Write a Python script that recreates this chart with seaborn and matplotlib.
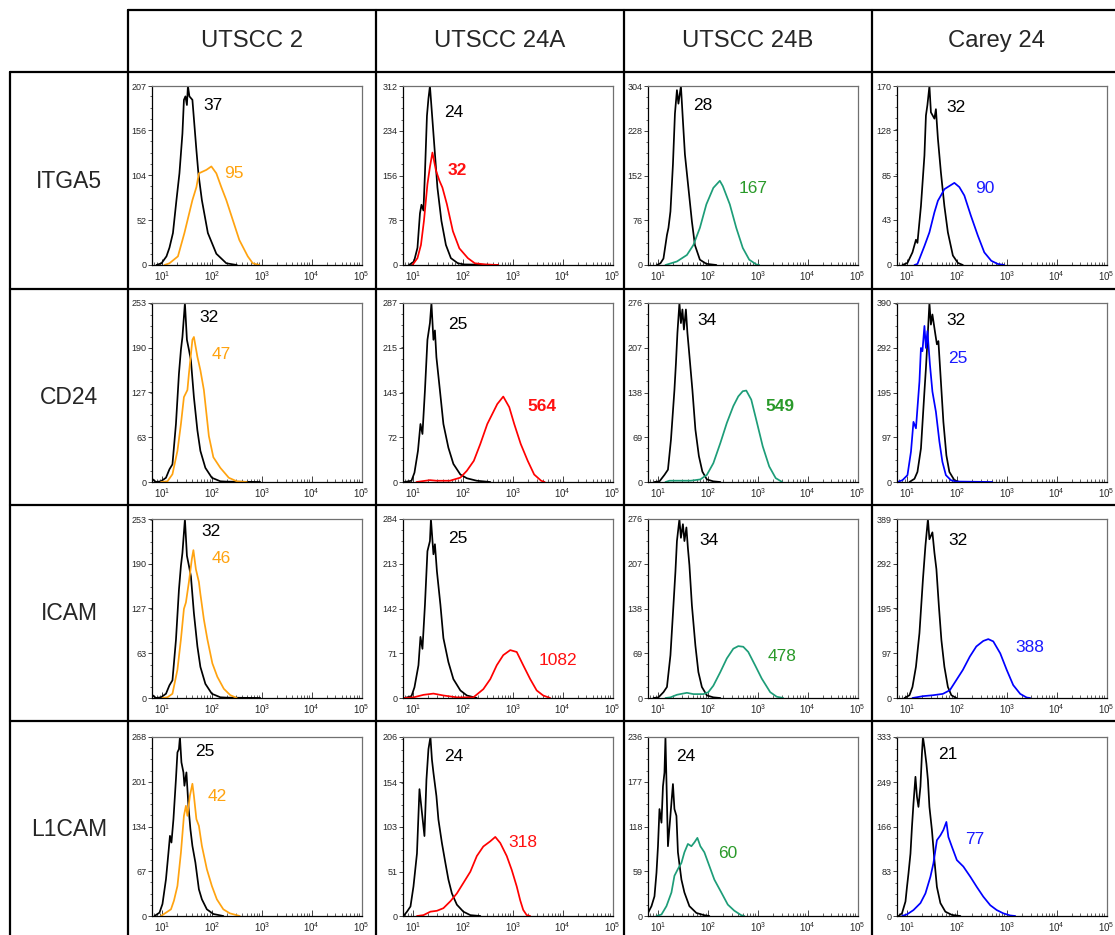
"""Flow cytometry histograms: surface markers across four HNSCC cell lines."""

import matplotlib

matplotlib.use("Agg")  # headless
import matplotlib.pyplot as plt  # noqa: E402
import numpy as np  # noqa: E402
import seaborn as sns  # noqa: E402
from matplotlib.lines import Line2D  # noqa: E402
from matplotlib.ticker import AutoMinorLocator, FixedLocator, LogLocator, NullFormatter  # noqa: E402

sns.set_style("white")
plt.rcParams["font.family"] = ["Liberation Sans", "DejaVu Sans"]
plt.rcParams["mathtext.fontset"] = "custom"
plt.rcParams["mathtext.rm"] = "Liberation Sans"

CELL_LINES = ["UTSCC 2", "UTSCC 24A", "UTSCC 24B", "Carey 24"]
MARKERS = ["ITGA5", "CD24", "ICAM", "L1CAM"]
STAIN_COLORS = ["#ffa310", "#ff0000", "#1d9d78", "#0000ff"]
LABEL_COLORS = ["#ffa310", "#ff1010", "#2a9a2a", "#1a1aff"]

# ---- histogram traces: log10(fluorescence) and event counts ----
# ITGA5
itga5_u2_iso_log = [0.89, 0.99, 1.09, 1.15, 1.22, 1.29, 1.35, 1.41, 1.44, 1.47, 1.50, 1.52, 1.55, 1.61, 1.69, 1.73, 1.80, 1.92, 2.09, 2.29, 2.50]
itga5_u2_iso_n = [0, 2, 10, 20, 37, 75, 106, 152, 191, 195, 185, 207, 195, 191, 133, 106, 75, 37, 13, 2, 0]
itga5_u2_pos_log = [1.05, 1.15, 1.32, 1.45, 1.61, 1.69, 1.74, 1.89, 1.99, 2.09, 2.19, 2.29, 2.42, 2.55, 2.72, 2.82, 2.95]
itga5_u2_pos_n = [0, 2, 10, 37, 75, 90, 106, 110, 114, 106, 90, 75, 52, 29, 10, 2, 0]

itga5_u24a_iso_log = [0.92, 1.02, 1.09, 1.14, 1.17, 1.21, 1.24, 1.28, 1.31, 1.34, 1.39, 1.44, 1.49, 1.57, 1.66, 1.76, 1.90, 2.03, 2.70]
itga5_u24a_iso_n = [0, 6, 30, 90, 105, 95, 160, 260, 290, 312, 253, 194, 135, 77, 35, 12, 3, 1, 0]
itga5_u24a_pos_log = [0.99, 1.09, 1.16, 1.22, 1.29, 1.34, 1.39, 1.46, 1.53, 1.59, 1.68, 1.80, 1.93, 2.10, 2.24, 2.45, 2.71]
itga5_u24a_pos_n = [0, 12, 35, 77, 141, 171, 196, 165, 147, 135, 106, 59, 29, 12, 3, 1, 0]

itga5_u24b_iso_log = [0.98, 1.05, 1.11, 1.18, 1.21, 1.25, 1.30, 1.34, 1.38, 1.41, 1.46, 1.50, 1.54, 1.61, 1.68, 1.74, 1.84, 1.97, 2.17]
itga5_u24b_iso_n = [0, 3, 11, 51, 63, 91, 171, 257, 297, 274, 304, 245, 188, 131, 74, 34, 9, 2, 0]
itga5_u24b_pos_log = [1.15, 1.38, 1.58, 1.71, 1.84, 1.97, 2.11, 2.24, 2.30, 2.44, 2.57, 2.70, 2.83, 2.97, 3.03]
itga5_u24b_pos_n = [0, 6, 17, 34, 63, 103, 131, 143, 134, 103, 63, 29, 9, 1, 0]

itga5_c24_iso_log = [0.91, 1.01, 1.11, 1.18, 1.21, 1.28, 1.35, 1.38, 1.41, 1.45, 1.48, 1.55, 1.58, 1.62, 1.68, 1.75, 1.82, 1.92, 2.02, 2.12]
itga5_c24_iso_n = [0, 2, 12, 24, 21, 56, 104, 142, 152, 170, 145, 139, 148, 120, 88, 56, 31, 9, 2, 0]
itga5_c24_pos_log = [1.15, 1.21, 1.35, 1.45, 1.55, 1.62, 1.68, 1.75, 1.85, 1.95, 2.05, 2.15, 2.28, 2.42, 2.55, 2.69, 2.82, 2.95]
itga5_c24_pos_n = [0, 1, 18, 31, 50, 61, 66, 72, 75, 78, 74, 66, 47, 28, 12, 4, 1, 0]

# CD24
cd24_u2_iso_log = [0.81, 0.88, 0.98, 1.08, 1.15, 1.21, 1.28, 1.34, 1.38, 1.41, 1.46, 1.50, 1.54, 1.58, 1.64, 1.71, 1.77, 1.87, 2.00, 2.17, 2.30, 2.97]
cd24_u2_iso_n = [4, 0, 1, 6, 18, 25, 82, 153, 187, 205, 253, 201, 187, 172, 120, 73, 44, 20, 6, 1, 0.5, 0]
cd24_u2_pos_log = [0.98, 1.11, 1.21, 1.31, 1.38, 1.44, 1.51, 1.54, 1.61, 1.64, 1.71, 1.77, 1.84, 1.94, 2.03, 2.17, 2.34, 2.50, 2.70]
cd24_u2_pos_n = [0, 1, 11, 44, 82, 120, 130, 153, 201, 205, 177, 158, 130, 65, 35, 20, 6, 1, 0]

cd24_u24a_iso_log = [0.83, 0.97, 1.03, 1.10, 1.15, 1.19, 1.24, 1.29, 1.34, 1.37, 1.41, 1.44, 1.47, 1.54, 1.61, 1.71, 1.81, 1.95, 2.08, 2.28, 2.55]
cd24_u24a_iso_n = [0, 2, 15, 50, 93, 77, 147, 228, 255, 287, 228, 243, 200, 147, 93, 55, 29, 12, 6, 2, 0]
cd24_u24a_pos_log = [1.07, 1.34, 1.47, 1.74, 1.95, 2.08, 2.22, 2.35, 2.49, 2.59, 2.69, 2.81, 2.93, 3.03, 3.16, 3.30, 3.43, 3.57, 3.64]
cd24_u24a_pos_n = [0, 3, 2, 2, 7, 18, 34, 61, 93, 109, 125, 137, 120, 93, 61, 34, 12, 2, 0]

cd24_u24b_iso_log = [0.93, 1.03, 1.13, 1.20, 1.26, 1.33, 1.36, 1.39, 1.43, 1.46, 1.49, 1.52, 1.56, 1.59, 1.62, 1.69, 1.75, 1.82, 1.89, 1.98, 2.11, 2.25]
cd24_u24b_iso_n = [0, 1, 11, 19, 65, 142, 183, 230, 276, 245, 266, 235, 266, 230, 204, 142, 81, 40, 16, 4, 1, 0]
cd24_u24b_pos_log = [1.15, 1.23, 1.66, 1.85, 1.98, 2.11, 2.25, 2.38, 2.51, 2.61, 2.70, 2.77, 2.87, 2.97, 3.10, 3.23, 3.36, 3.49]
cd24_u24b_pos_n = [0, 2, 2, 4, 11, 29, 60, 91, 117, 132, 140, 141, 127, 96, 55, 24, 6, 0]

cd24_c24_iso_log = [1.05, 1.15, 1.21, 1.28, 1.35, 1.38, 1.41, 1.45, 1.48, 1.51, 1.57, 1.60, 1.63, 1.68, 1.73, 1.79, 1.85, 1.95, 2.05]
cd24_c24_iso_n = [0, 7, 22, 73, 197, 248, 307, 390, 343, 365, 321, 300, 307, 219, 131, 58, 22, 4, 0]
cd24_c24_pos_log = [0.81, 0.91, 1.01, 1.08, 1.13, 1.18, 1.21, 1.25, 1.28, 1.31, 1.35, 1.38, 1.41, 1.46, 1.51, 1.58, 1.65, 1.71, 1.78, 1.88, 1.98, 2.71]
cd24_c24_pos_n = [0, 4, 15, 66, 131, 117, 161, 219, 292, 285, 340, 292, 329, 256, 197, 153, 88, 44, 15, 4, 1, 0]

# ICAM
icam_u2_iso_log = [0.81, 0.88, 0.98, 1.08, 1.15, 1.21, 1.28, 1.34, 1.38, 1.41, 1.46, 1.50, 1.54, 1.58, 1.64, 1.71, 1.77, 1.87, 2.00, 2.17, 2.30, 2.97]
icam_u2_iso_n = [4, 0, 1, 6, 18, 25, 82, 153, 187, 205, 253, 201, 187, 172, 120, 73, 44, 20, 6, 1, 0.5, 0]
icam_u2_pos_log = [1.01, 1.11, 1.21, 1.31, 1.38, 1.44, 1.48, 1.54, 1.60, 1.63, 1.68, 1.74, 1.77, 1.84, 1.91, 2.01, 2.11, 2.24, 2.37, 2.50]
icam_u2_pos_n = [0, 1, 6, 40, 83, 126, 135, 164, 197, 209, 182, 164, 147, 111, 83, 49, 30, 13, 4, 0]

icam_u24a_iso_log = [0.84, 0.97, 1.03, 1.11, 1.15, 1.19, 1.24, 1.29, 1.34, 1.36, 1.41, 1.44, 1.48, 1.55, 1.61, 1.71, 1.81, 1.95, 2.08, 2.28]
icam_u24a_iso_n = [0, 3, 17, 52, 97, 78, 148, 233, 249, 284, 228, 244, 201, 148, 95, 57, 30, 12, 4, 0]
icam_u24a_pos_log = [0.81, 1.01, 1.21, 1.41, 1.61, 1.88, 2.21, 2.41, 2.55, 2.68, 2.81, 2.95, 3.08, 3.21, 3.35, 3.48, 3.61, 3.75]
icam_u24a_pos_n = [0, 1, 5, 7, 4, 1, 1, 14, 30, 52, 68, 76, 73, 52, 30, 12, 4, 0]

icam_u24b_iso_log = [0.91, 1.01, 1.11, 1.18, 1.25, 1.31, 1.35, 1.38, 1.43, 1.46, 1.50, 1.53, 1.57, 1.60, 1.63, 1.68, 1.75, 1.81, 1.88, 1.98, 2.11, 2.25]
icam_u24b_iso_n = [0, 1, 9, 17, 66, 143, 195, 242, 276, 247, 268, 242, 263, 231, 205, 143, 81, 40, 17, 4, 1, 0]
icam_u24b_pos_log = [1.15, 1.25, 1.38, 1.58, 1.71, 1.91, 2.01, 2.11, 2.25, 2.38, 2.51, 2.61, 2.71, 2.81, 2.95, 3.08, 3.25, 3.38, 3.51]
icam_u24b_pos_n = [0, 1, 5, 8, 6, 6, 9, 19, 40, 61, 76, 80, 79, 71, 50, 30, 9, 2, 0]

icam_c24_iso_log = [0.95, 1.05, 1.11, 1.18, 1.25, 1.32, 1.37, 1.42, 1.45, 1.51, 1.55, 1.59, 1.64, 1.69, 1.75, 1.82, 1.89, 1.99]
icam_c24_iso_n = [0, 6, 24, 68, 141, 258, 331, 389, 345, 360, 316, 280, 199, 126, 68, 24, 6, 0]
icam_c24_pos_log = [1.11, 1.32, 1.52, 1.72, 1.86, 1.99, 2.12, 2.26, 2.39, 2.53, 2.63, 2.73, 2.87, 3.00, 3.13, 3.27, 3.40, 3.47]
icam_c24_pos_n = [0, 4, 6, 9, 17, 39, 61, 90, 112, 124, 128, 123, 97, 61, 28, 9, 1, 0]

# L1CAM
l1cam_u2_iso_log = [0.85, 0.95, 1.01, 1.08, 1.13, 1.16, 1.19, 1.23, 1.28, 1.31, 1.34, 1.36, 1.39, 1.43, 1.45, 1.49, 1.53, 1.57, 1.61, 1.67, 1.74, 1.80, 1.90, 2.03, 2.23]
l1cam_u2_iso_n = [0, 5, 18, 55, 95, 120, 110, 145, 205, 245, 250, 268, 230, 215, 195, 215, 165, 130, 105, 80, 40, 25, 10, 3, 0]
l1cam_u2_pos_log = [0.98, 1.08, 1.18, 1.24, 1.31, 1.38, 1.44, 1.48, 1.51, 1.56, 1.61, 1.64, 1.69, 1.74, 1.80, 1.90, 2.00, 2.10, 2.23, 2.36, 2.56]
l1cam_u2_pos_n = [0, 5, 10, 23, 45, 95, 150, 165, 150, 180, 198, 180, 145, 135, 105, 70, 45, 25, 10, 4, 0]

l1cam_u24a_iso_log = [0.81, 0.88, 0.95, 1.01, 1.08, 1.13, 1.18, 1.23, 1.27, 1.31, 1.35, 1.38, 1.41, 1.47, 1.51, 1.58, 1.65, 1.71, 1.78, 1.88, 2.01, 2.15, 2.35]
l1cam_u24a_iso_n = [0, 5, 11, 34, 72, 146, 119, 92, 157, 192, 206, 180, 165, 138, 111, 84, 61, 42, 26, 13, 5, 1, 0]
l1cam_u24a_pos_log = [1.08, 1.21, 1.35, 1.48, 1.61, 1.75, 1.88, 2.01, 2.15, 2.28, 2.41, 2.55, 2.65, 2.75, 2.88, 2.98, 3.08, 3.15, 3.21, 3.28, 3.35]
l1cam_u24a_pos_n = [0, 1, 5, 6, 9, 17, 26, 38, 51, 69, 80, 86, 91, 84, 69, 53, 34, 18, 7, 1, 0]

l1cam_u24b_iso_log = [0.80, 0.87, 0.93, 0.97, 1.00, 1.03, 1.07, 1.10, 1.13, 1.15, 1.20, 1.30, 1.33, 1.37, 1.40, 1.47, 1.53, 1.63, 1.77, 1.93, 2.03]
l1cam_u24b_iso_n = [4, 13, 26, 57, 92, 141, 123, 171, 189, 236, 92, 174, 141, 132, 84, 48, 31, 13, 4, 1, 0]
l1cam_u24b_pos_log = [0.97, 1.07, 1.17, 1.27, 1.33, 1.40, 1.47, 1.53, 1.60, 1.67, 1.73, 1.79, 1.85, 1.93, 2.03, 2.13, 2.27, 2.40, 2.53, 2.67, 2.73]
l1cam_u24b_pos_n = [0, 2, 13, 31, 53, 62, 70, 84, 95, 92, 97, 103, 92, 84, 66, 48, 31, 15, 7, 1, 0]

l1cam_c24_iso_log = [0.83, 0.90, 0.97, 1.00, 1.03, 1.07, 1.10, 1.13, 1.17, 1.20, 1.23, 1.27, 1.30, 1.32, 1.35, 1.39, 1.42, 1.45, 1.50, 1.55, 1.60, 1.67, 1.77, 1.90, 2.07]
l1cam_c24_iso_n = [0, 5, 27, 54, 79, 116, 166, 209, 259, 222, 203, 241, 302, 333, 314, 283, 253, 203, 160, 104, 54, 24, 8, 2, 0]
l1cam_c24_pos_log = [0.90, 1.00, 1.13, 1.27, 1.37, 1.47, 1.53, 1.60, 1.67, 1.73, 1.79, 1.83, 1.90, 2.00, 2.13, 2.27, 2.40, 2.53, 2.67, 2.80, 2.93, 3.07, 3.17]
l1cam_c24_pos_n = [0, 3, 11, 24, 42, 73, 98, 141, 150, 160, 175, 147, 129, 104, 92, 73, 54, 36, 20, 11, 5, 1, 0]

# y-axis tick labels (counts) per panel, one list per marker row
itga5_yticks = [[0, 52, 104, 156, 207], [0, 78, 156, 234, 312], [0, 76, 152, 228, 304], [0, 43, 85, 128, 170]]
cd24_yticks = [[0, 63, 127, 190, 253], [0, 72, 143, 215, 287], [0, 69, 138, 207, 276], [0, 97, 195, 292, 390]]
icam_yticks = [[0, 63, 127, 190, 253], [0, 71, 142, 213, 284], [0, 69, 138, 207, 276], [0, 97, 195, 292, 389]]
l1cam_yticks = [[0, 67, 134, 201, 268], [0, 51, 103, 154, 206], [0, 59, 118, 177, 236], [0, 83, 166, 249, 333]]

# median fluorescence (isotype, stained) printed in each panel
itga5_mfi = [(37, 95), (24, 32), (28, 167), (32, 90)]
cd24_mfi = [(32, 47), (25, 564), (34, 549), (32, 25)]
icam_mfi = [(32, 46), (25, 1082), (34, 478), (32, 388)]
l1cam_mfi = [(25, 42), (24, 318), (24, 60), (21, 77)]
bold_labels = [("ITGA5", "UTSCC 24A"), ("CD24", "UTSCC 24A"), ("CD24", "UTSCC 24B")]

CURVES = {
    "ITGA5": [
        (itga5_u2_iso_log, itga5_u2_iso_n, itga5_u2_pos_log, itga5_u2_pos_n),
        (itga5_u24a_iso_log, itga5_u24a_iso_n, itga5_u24a_pos_log, itga5_u24a_pos_n),
        (itga5_u24b_iso_log, itga5_u24b_iso_n, itga5_u24b_pos_log, itga5_u24b_pos_n),
        (itga5_c24_iso_log, itga5_c24_iso_n, itga5_c24_pos_log, itga5_c24_pos_n),
    ],
    "CD24": [
        (cd24_u2_iso_log, cd24_u2_iso_n, cd24_u2_pos_log, cd24_u2_pos_n),
        (cd24_u24a_iso_log, cd24_u24a_iso_n, cd24_u24a_pos_log, cd24_u24a_pos_n),
        (cd24_u24b_iso_log, cd24_u24b_iso_n, cd24_u24b_pos_log, cd24_u24b_pos_n),
        (cd24_c24_iso_log, cd24_c24_iso_n, cd24_c24_pos_log, cd24_c24_pos_n),
    ],
    "ICAM": [
        (icam_u2_iso_log, icam_u2_iso_n, icam_u2_pos_log, icam_u2_pos_n),
        (icam_u24a_iso_log, icam_u24a_iso_n, icam_u24a_pos_log, icam_u24a_pos_n),
        (icam_u24b_iso_log, icam_u24b_iso_n, icam_u24b_pos_log, icam_u24b_pos_n),
        (icam_c24_iso_log, icam_c24_iso_n, icam_c24_pos_log, icam_c24_pos_n),
    ],
    "L1CAM": [
        (l1cam_u2_iso_log, l1cam_u2_iso_n, l1cam_u2_pos_log, l1cam_u2_pos_n),
        (l1cam_u24a_iso_log, l1cam_u24a_iso_n, l1cam_u24a_pos_log, l1cam_u24a_pos_n),
        (l1cam_u24b_iso_log, l1cam_u24b_iso_n, l1cam_u24b_pos_log, l1cam_u24b_pos_n),
        (l1cam_c24_iso_log, l1cam_c24_iso_n, l1cam_c24_pos_log, l1cam_c24_pos_n),
    ],
}
YTICKS = {"ITGA5": itga5_yticks, "CD24": cd24_yticks, "ICAM": icam_yticks, "L1CAM": l1cam_yticks}
MFI = {"ITGA5": itga5_mfi, "CD24": cd24_mfi, "ICAM": icam_mfi, "L1CAM": l1cam_mfi}

# ---- layout (pixels of the 1115x935 canvas) ----
W, H = 1115, 935
AX_LEFT = [152, 403, 648, 897]
AX_TOP = [86, 303, 519, 737]
AX_W, AX_H = 210, 179
COL_LINES = [128, 376, 624, 872]
ROW_LINES = [72, 289, 505, 721]
# where the two MFI numbers sit, axes fraction (isotype, stained)
LABEL_POS = {
    "ITGA5": [((0.29, 0.89), (0.39, 0.51)), ((0.24, 0.85), (0.26, 0.53)),
              ((0.26, 0.89), (0.50, 0.43)), ((0.28, 0.88), (0.42, 0.43))],
    "CD24": [((0.27, 0.92), (0.33, 0.71)), ((0.26, 0.88), (0.66, 0.42)),
             ((0.28, 0.90), (0.63, 0.42)), ((0.28, 0.90), (0.29, 0.69))],
    "ICAM": [((0.28, 0.93), (0.33, 0.78)), ((0.26, 0.89), (0.74, 0.21)),
             ((0.29, 0.88), (0.64, 0.23)), ((0.29, 0.88), (0.63, 0.28))],
    "L1CAM": [((0.25, 0.92), (0.31, 0.67)), ((0.24, 0.89), (0.57, 0.41)),
              ((0.18, 0.89), (0.38, 0.35)), ((0.24, 0.90), (0.37, 0.43))],
}


def fx(px):
    return px / W


def fy(py):
    return 1 - py / H


def draw_panel(ax, marker, col):
    iso_log, iso_n, pos_log, pos_n = CURVES[marker][col]
    sns.lineplot(x=10 ** np.array(iso_log), y=iso_n, ax=ax, color="black",
                 lw=1.25, estimator=None, sort=False)
    sns.lineplot(x=10 ** np.array(pos_log), y=pos_n, ax=ax, color=STAIN_COLORS[col],
                 lw=1.25, estimator=None, sort=False)

    ticks = YTICKS[marker][col]
    ax.set_xscale("log")
    ax.set_xlim(10 ** 0.8, 10 ** 5.01)
    ax.set_ylim(0, ticks[-1])
    ax.xaxis.set_major_locator(FixedLocator([1e1, 1e2, 1e3, 1e4, 1e5]))
    ax.xaxis.set_minor_locator(LogLocator(base=10, subs=np.arange(2, 10)))
    ax.xaxis.set_minor_formatter(NullFormatter())
    ax.set_yticks(ticks)
    ax.set_yticklabels([str(t) for t in ticks])
    ax.yaxis.set_minor_locator(AutoMinorLocator(4))

    ax.tick_params(axis="x", which="major", direction="in", length=4, width=0.6,
                   labelsize=7, pad=3, bottom=True)
    ax.tick_params(axis="x", which="minor", direction="in", length=2.5, width=0.5, bottom=True)
    ax.tick_params(axis="y", which="major", direction="out", length=3, width=0.6,
                   labelsize=6.5, pad=1, left=True)
    ax.tick_params(axis="y", which="minor", direction="out", length=1.5, width=0.5, left=True)
    ax.set_xlabel("")
    ax.set_ylabel("")

    for side in ("left", "bottom"):
        ax.spines[side].set_color("black")
        ax.spines[side].set_linewidth(0.9)
    for side in ("top", "right"):
        ax.spines[side].set_color("#707070")
        ax.spines[side].set_linewidth(0.9)

    iso_mfi, pos_mfi = MFI[marker][col]
    (ix, iy), (sx, sy) = LABEL_POS[marker][col]
    weight = "bold" if (marker, CELL_LINES[col]) in bold_labels else "normal"
    ax.text(ix, iy, str(iso_mfi), transform=ax.transAxes, ha="center", va="center",
            fontsize=12.5, color="black")
    ax.text(sx, sy, str(pos_mfi), transform=ax.transAxes, ha="center", va="center",
            fontsize=12.5, color=LABEL_COLORS[col], fontweight=weight)


fig = plt.figure(figsize=(W / 100, H / 100), dpi=100)

for r, marker in enumerate(MARKERS):
    for c in range(len(CELL_LINES)):
        ax = fig.add_axes([fx(AX_LEFT[c]), fy(AX_TOP[r] + AX_H), AX_W / W, AX_H / H])
        draw_panel(ax, marker, c)

# table grid
lw = 1.6
fig.add_artist(Line2D([fx(COL_LINES[0]), 1], [fy(10), fy(10)], transform=fig.transFigure, color="black", lw=lw))
for y in ROW_LINES:
    fig.add_artist(Line2D([fx(10), 1], [fy(y), fy(y)], transform=fig.transFigure, color="black", lw=lw))
fig.add_artist(Line2D([fx(10), fx(10)], [fy(ROW_LINES[0]), 0], transform=fig.transFigure, color="black", lw=lw))
for x in COL_LINES:
    fig.add_artist(Line2D([fx(x), fx(x)], [fy(10), 0], transform=fig.transFigure, color="black", lw=lw))

# headers
for c, name in enumerate(CELL_LINES):
    fig.text(fx(COL_LINES[c] + 124), fy(41), name, ha="center", va="center", fontsize=17.2)
for r, name in enumerate(MARKERS):
    fig.text(fx(69), fy((ROW_LINES[r] + (ROW_LINES[r + 1] if r < 3 else 935)) / 2 + 1),
             name, ha="center", va="center", fontsize=16.5)

fig.savefig("out.png", dpi=100)
plt.close(fig)
